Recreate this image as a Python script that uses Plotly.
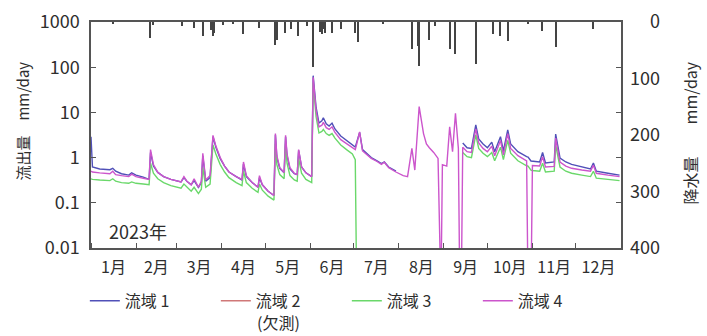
import datetime as dt
import plotly.graph_objects as go

# ---------------- data ----------------
# day of year (0 = 1 Jan 2023)
day = [0, 1, 6, 13, 15, 17, 21, 26, 28, 31, 36, 40, 41, 43, 46, 50, 55, 62, 64, 66,
       69, 71, 74, 76, 77, 79, 82, 84, 86, 89, 92, 95, 100, 104, 105, 107, 111, 115, 116, 118,
       122, 126, 127, 128, 130, 133, 134, 135, 137, 140, 142, 143, 145, 148, 152, 153, 155, 157, 159, 160,
       162, 164, 166, 168, 172, 176, 180, 182, 183, 185, 187, 190, 193, 197, 200, 202, 205, 210, 215, 218,
       221, 223, 226, 229, 231, 233, 236, 239, 240, 241, 242, 245, 247, 249, 251, 253, 254, 255, 256, 259,
       262, 265, 267, 270, 273, 276, 278, 282, 284, 287, 289, 294, 300, 301, 303, 304, 309, 311, 313, 319,
       320, 323, 327, 331, 338, 344, 346, 348, 356, 364]

# 流域1 (mm/day)
q1 = [2.9, 0.62, 0.56, 0.54, 0.58, 0.5, 0.44, 0.41, 0.46, 0.41, 0.37, 0.33, 1.3, 0.65, 0.47, 0.38, 0.33, 0.29, 0.36, 0.3,
      0.25, 0.31, 0.22, 0.28, 1.1, 0.3, 0.36, 2.9, 1.7, 0.95, 0.65, 0.48, 0.38, 0.32, 0.72, 0.38, 0.28, 0.22, 0.36, 0.25,
      0.18, 0.145, 3.2, 1.0, 0.58, 0.46, 2.9, 1.1, 0.56, 0.44, 0.42, 1.45, 0.62, 0.46, 0.38, 65, 13, 5.8, 6.5, 7.6,
      5.6, 5.0, 5.8, 4.3, 3.0, 2.4, 1.85, 1.7, 2.2, 3.6, 1.5, 1.2, 1.0, 0.85, 0.74, 0.8, 0.62, 0.5, None, None,
      None, None, None, None, None, None, None, None, None, None, None, None, None, None, None, None, None, None, 2.1, 1.65,
      1.6, 5.3, 2.6, 2.0, 1.65, 2.2, 1.35, 2.9, 1.4, 4.1, 2.0, 1.35, 1.05, 1.03, 0.84, 0.83, 0.8, 1.3, 0.76, 0.8,
      3.3, 0.98, 0.8, 0.71, 0.62, 0.56, 0.76, 0.5, 0.45, 0.41]

# 流域3 (mm/day)
q3 = [0.34, 0.33, 0.32, 0.31, 0.34, 0.3, 0.28, 0.27, 0.29, 0.27, 0.26, 0.25, 0.75, 0.45, 0.34, 0.28, 0.24, 0.21, 0.26, 0.22,
      0.18, 0.22, 0.16, 0.2, 0.6, 0.22, 0.26, 1.9, 1.2, 0.7, 0.48, 0.36, 0.28, 0.24, 0.5, 0.28, 0.21, 0.17, 0.26, 0.19,
      0.14, 0.115, 2.0, 0.7, 0.42, 0.34, 2.0, 0.75, 0.4, 0.32, 0.3, 0.95, 0.45, 0.33, 0.28, 45, 8, 3.5, 3.8, 4.2,
      3.4, 3.1, 3.4, 2.7, 1.9, 1.5, 1.2, 0.9, 0.001, None, None, None, None, None, None, None, None, None, None, None,
      None, None, None, None, None, None, None, None, None, None, None, None, None, None, None, None, None, None, 1.3, 1.05,
      1.0, 3.2, 1.6, 1.25, 1.05, 1.3, 0.85, 1.7, 0.9, 2.4, 1.25, 0.85, 0.66, 0.65, 0.53, 0.52, 0.5, 0.75, 0.48, 0.5,
      1.9, 0.62, 0.5, 0.45, 0.41, 0.38, 0.5, 0.35, 0.33, 0.31]

# 流域4 (mm/day)
q4 = [0.5, 0.48, 0.46, 0.44, 0.5, 0.42, 0.4, 0.38, 0.43, 0.38, 0.35, 0.33, 1.5, 0.7, 0.47, 0.38, 0.33, 0.29, 0.38, 0.3,
      0.25, 0.34, 0.22, 0.3, 1.25, 0.32, 0.4, 3.1, 1.8, 1.0, 0.65, 0.48, 0.38, 0.33, 0.8, 0.4, 0.28, 0.22, 0.4, 0.25,
      0.18, 0.145, 3.4, 1.1, 0.6, 0.47, 3.1, 1.2, 0.6, 0.45, 0.42, 1.5, 0.62, 0.46, 0.38, 60, 11, 4.8, 5.2, 6.0,
      4.6, 4.2, 4.8, 3.6, 2.5, 2.0, 1.6, 1.5, 2.0, 3.7, 1.4, 1.15, 0.96, 0.82, 0.71, 0.79, 0.6, 0.48, 0.4, 0.38,
      1.6, 0.53, 13.4, 3.4, 2.0, 1.65, 1.3, 0.96, 0.001, 0.001, 0.7, 0.65, 4.8, 1.35, 9.6, 1.6, 0.001, 0.001, 1.7, 1.35,
      1.3, 4.3, 2.1, 1.6, 1.35, 1.8, 1.1, 2.4, 1.15, 3.4, 1.6, 1.1, 0.85, 0.001, 0.001, 0.67, 0.65, 1.05, 0.62, 0.64,
      2.7, 0.8, 0.65, 0.58, 0.53, 0.5, 0.68, 0.45, 0.41, 0.38]

# 降水量 (mm/day)
rain_day = [15, 41, 43, 63, 71, 77, 83, 84, 85, 91, 98, 105, 116, 127, 128, 134, 138, 143, 149, 153,
            158, 159, 160, 161, 166, 172, 182, 184, 201, 221, 225, 226, 233, 237, 247, 251, 265, 277, 282, 287,
            301, 311, 320, 346]
rain = [2, 29, 6, 7, 10, 25, 15, 25, 20, 6, 4, 22, 10, 40, 32, 19, 13, 25, 7, 80,
        18, 22, 12, 20, 20, 13, 20, 36, 3, 48, 42, 78, 31, 7, 48, 57, 75, 22, 25, 34,
        3, 16, 44, 13]

series_names = ["流域 1", "流域 2", "流域 3", "流域 4"]
missing_note = "(欠測)"
series_colors = ["#5050b8", "#d07878", "#6ad86a", "#cc55cc"]
y_ticks = [0.01, 0.1, 1, 10, 100, 1000]
y_ticktext = ["0.01", "0.1", "1", "10", "100", "1000"]
y2_ticks = [0, 100, 200, 300, 400]
y2_ticktext = ["\u2007\u20070", "100", "200", "300", "400"]

# ---------------- figure ----------------
start = dt.date(2023, 1, 1)
dates = [start + dt.timedelta(days=d) for d in day]
rain_dates = [start + dt.timedelta(days=d) for d in rain_day]

FONT = "Noto Sans CJK JP, Noto Sans, sans-serif"
TXT = "#2e2e2e"
AX = "#555555"

fig = go.Figure()

fig.add_trace(go.Bar(x=rain_dates, y=rain, yaxis="y2", marker_color="#444444",
                     marker_line_width=0, width=0.9 * 86400000, showlegend=False))

data_by_series = [q1, None, q3, q4]
for name, col, vals in zip(series_names, series_colors, data_by_series):
    if vals is None:
        fig.add_trace(go.Scatter(x=[None], y=[None], mode="lines", name=name,
                                 line=dict(color=col, width=1.6)))
    else:
        fig.add_trace(go.Scatter(x=dates, y=vals, mode="lines", name=name,
                                 connectgaps=False, line=dict(color=col, width=1.4)))

fig.update_layout(
    template="none",
    width=707, height=336,
    margin=dict(l=91, r=86, t=22, b=88, autoexpand=False),
    paper_bgcolor="white", plot_bgcolor="white",
    font=dict(family=FONT, color=TXT, size=15),
    bargap=0,
    xaxis=dict(type="date", range=["2023-01-01", "2024-01-01"],
               dtick="M1", tick0="2023-01-01", tickformat="%-m月",
               ticklabelmode="period", ticks="inside", ticklen=5, tickcolor=AX,
               showline=True, linecolor=AX, linewidth=1.5, mirror=True,
               showgrid=False, zeroline=False, ticklabelstandoff=4, automargin=False,
               tickfont=dict(size=16, color=TXT)),
    yaxis=dict(type="log", range=[-2, 3], tickvals=y_ticks, ticktext=y_ticktext,
               ticks="inside", ticklen=5, tickcolor=AX,
               showline=True, linecolor=AX, linewidth=1.5, mirror="ticks",
               showgrid=False, zeroline=False, automargin=False,
               tickfont=dict(size=18, color=TXT), ticklabelstandoff=6),
    yaxis2=dict(overlaying="y", side="right", range=[400, 0],
                tickvals=y2_ticks, ticktext=y2_ticktext, ticks="",
                showline=False, showgrid=False, zeroline=False, automargin=False,
                tickfont=dict(size=18, color=TXT), ticklabelstandoff=8),
    legend=dict(orientation="h", xref="container", yref="container",
                x=0.12, y=0.155, xanchor="left", yanchor="top",
                valign="middle", font=dict(size=16, color=TXT),
                entrywidth=86, entrywidthmode="pixels", traceorder="normal",
                bgcolor="rgba(0,0,0,0)"),
    annotations=[
        dict(text="流出量　mm/day", xref="paper", yref="paper", x=-0.13, y=0.56,
             xanchor="center", yanchor="middle",
             textangle=-90, showarrow=False, font=dict(size=15, color=TXT)),
        dict(text="降水量　　mm/day", xref="paper", yref="paper", x=1.13, y=0.511,
             xanchor="center", yanchor="middle",
             textangle=-90, showarrow=False, font=dict(size=16, color=TXT)),
        dict(text="2023年", xref="paper", yref="paper", x=0.089, y=0.075,
             xanchor="center", yanchor="middle",
             showarrow=False, font=dict(size=18, color=TXT)),
        dict(text=missing_note, xref="paper", yref="paper", x=0.3547, y=-0.327,
             xanchor="center", yanchor="middle",
             showarrow=False, font=dict(size=16, color=TXT)),
    ],
)

fig.write_html("out.html")
